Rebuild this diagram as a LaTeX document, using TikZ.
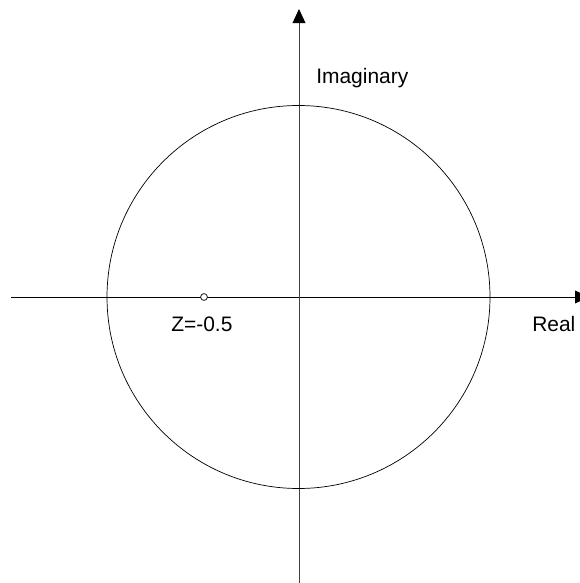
\documentclass[tikz,border=0pt]{standalone}
\usepackage{fontspec}
\setmainfont{Liberation Sans}
\usetikzlibrary{arrows.meta}

\begin{document}
\begin{tikzpicture}[
  x=0.025cm, y=-0.025cm,
  axis/.style={line width=0.6pt, -{Triangle[length=0.35cm, width=0.32cm, black]}},
  lbl/.style={anchor=base west, inner sep=0pt, font=\fontsize{14.9}{17}\selectfont},
]
\useasboundingbox (0,0) rectangle (579,583);
% axes
\coordinate (xl) at (11,297);
\coordinate (xr) at (589,297);
\coordinate (yb) at (299,583);
\coordinate (yt) at (299,9);
\draw[axis] (xl) -- (xr);
\draw[axis, black!75] (yb) -- (yt);
% unit circle
\coordinate (o) at (298.5,297);
\draw[line width=0.5pt] (o) circle[radius=191.5*0.025cm];
% zero
\node[draw, circle, inner sep=0pt, minimum size=0.17cm, line width=0.5pt, fill=white] (z) at (204,297) {};
% labels
\node[lbl] (imag) at (316,84) {Imaginary};
\node[lbl] (real) at (532,331) {Real};
\node[lbl] (zlbl) at (171,331) {Z=-0.5};
\end{tikzpicture}
\end{document}
